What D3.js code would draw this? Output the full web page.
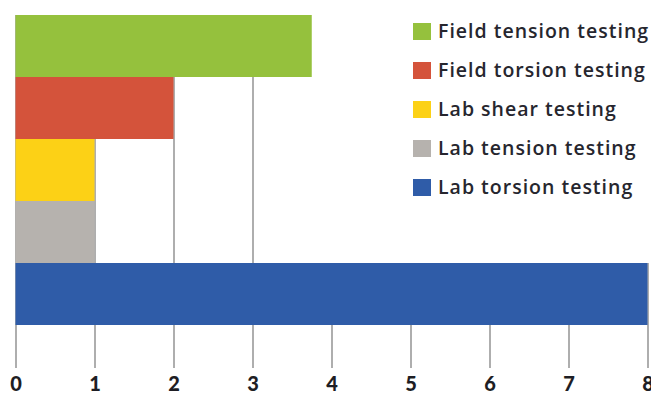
<!DOCTYPE html>
<html>
<head>
<meta charset="utf-8">
<script src="https://cdn.jsdelivr.net/npm/d3@7"></script>
<style>
  html, body { margin: 0; padding: 0; background: #fff; overflow: hidden; }
  svg { display: block; }
</style>
</head>
<body>
<svg id="chart" width="651" height="394"></svg>
<script>
// Number of tests by method
const categories = [
  "Field tension testing",
  "Field torsion testing",
  "Lab shear testing",
  "Lab tension testing",
  "Lab torsion testing"
];
const values = [3.75, 2, 1, 1, 8];
const colors = ["#95c13d", "#d4533b", "#fcd116", "#b6b2ae", "#2f5ca8"];
const tickValues = [0, 1, 2, 3, 4, 5, 6, 7, 8];

const svg = d3.select("#chart");
const font = "'Open Sans', Lato, sans-serif";

const x = d3.scaleLinear().domain([0, 8]).range([15.5, 647.5]);
const y = d3.scaleBand().domain(categories).range([15, 325]).padding(0);
const axisY = 368;

// each grid line rises only as far as the topmost bar that reaches its value
const lineTop = t => {
  const hit = categories.find((c, i) => values[i] >= t);
  return hit ? y(hit) : axisY;
};

const axis = d3.axisBottom(x)
  .tickValues(tickValues)
  .tickFormat(d3.format("d"))
  .tickSizeInner(0)
  .tickSizeOuter(0)
  .tickPadding(8);

const gAxis = svg.append("g")
  .attr("transform", `translate(0,${axisY})`)
  .call(axis);
gAxis.select(".domain").remove();
gAxis.selectAll(".tick line")
  .attr("y1", 0)
  .attr("y2", d => lineTop(d) - axisY)
  .attr("stroke", "#9a9a9a")
  .attr("stroke-width", 1.6);
gAxis.selectAll(".tick text")
  .attr("fill", "#1e1e24")
  .attr("font-family", "Lato, sans-serif")
  .attr("font-weight", "900")
  .attr("font-size", 20)
  .attr("dy", "0.75em");

// bars
svg.append("g").selectAll("rect")
  .data(categories)
  .join("rect")
  .attr("x", x(0))
  .attr("y", d => y(d))
  .attr("width", (d, i) => x(values[i]) - x(0))
  .attr("height", y.bandwidth())
  .attr("fill", (d, i) => colors[i]);

// legend
const legend = svg.append("g").attr("transform", "translate(413,0)");
const rowY = d3.scalePoint().domain(categories).range([31, 187]);
const items = legend.selectAll("g")
  .data(categories)
  .join("g")
  .attr("transform", d => `translate(0,${rowY(d)})`);
items.append("rect")
  .attr("x", 0)
  .attr("y", -8)
  .attr("width", 18)
  .attr("height", 17)
  .attr("fill", (d, i) => colors[i]);
items.append("text")
  .attr("x", 25)
  .attr("dy", "0.36em")
  .attr("fill", "#26262e")
  .attr("font-family", font)
  .attr("font-weight", "600")
  .attr("font-size", 19.5)
  .attr("letter-spacing", 1)
  .text(d => d);
</script>
</body>
</html>
